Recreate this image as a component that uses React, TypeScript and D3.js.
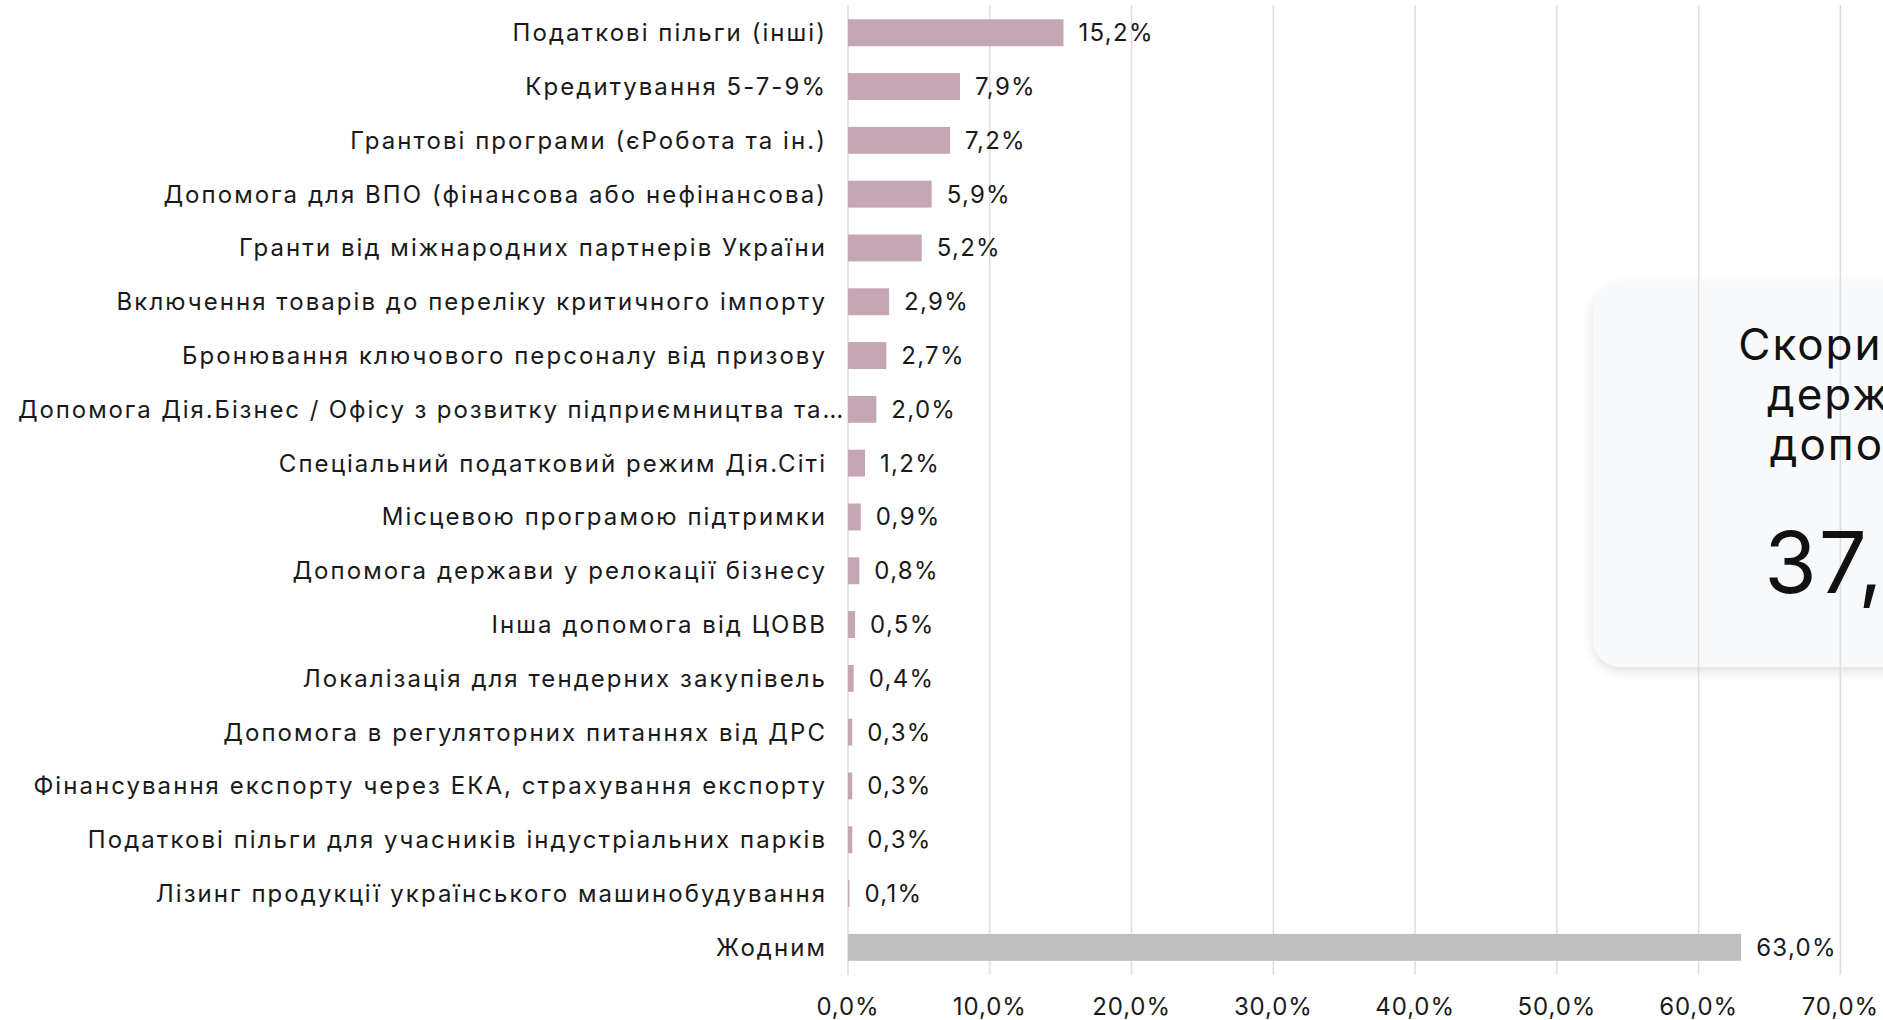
import React from "react";
import * as d3 from "d3";

const categories = [
  "Податкові пільги (інші)",
  "Кредитування 5-7-9%",
  "Грантові програми (єРобота та ін.)",
  "Допомога для ВПО (фінансова або нефінансова)",
  "Гранти від міжнародних партнерів України",
  "Включення товарів до переліку критичного імпорту",
  "Бронювання ключового персоналу від призову",
  "Допомога Дія.Бізнес / Офісу з розвитку підприємництва та…",
  "Спеціальний податковий режим Дія.Сіті",
  "Місцевою програмою підтримки",
  "Допомога держави у релокації бізнесу",
  "Інша допомога від ЦОВВ",
  "Локалізація для тендерних закупівель",
  "Допомога в регуляторних питаннях від ДРС",
  "Фінансування експорту через ЕКА, страхування експорту",
  "Податкові пільги для учасників індустріальних парків",
  "Лізинг продукції українського машинобудування",
  "Жодним",
];
const values = [15.2, 7.9, 7.2, 5.9, 5.2, 2.9, 2.7, 2.0, 1.2, 0.9, 0.8, 0.5, 0.4, 0.3, 0.3, 0.3, 0.1, 63.0];
const xTicks = [0, 10, 20, 30, 40, 50, 60, 70];
const calloutLines = ["Скористалися", "державною", "допомогою"];
const calloutValue = 37.0;

const W = 1883;
const H = 1020;
const FONT = "Inter, 'Noto Sans', sans-serif";
const fmt = (v: number) => v.toFixed(1).replace(".", ",") + "%";

export default function App() {
  React.useEffect(() => {
    document.body.style.margin = "0";
    document.body.style.overflow = "hidden";
  }, []);

  const x = d3.scaleLinear().domain([0, 70]).range([848, 1840.4]);
  const y = d3
    .scaleBand<string>()
    .domain(categories)
    .range([5.85, 974.25])
    .paddingInner(0.5)
    .paddingOuter(0.25);

  const labelX = 827;

  return (
    <svg width={W} height={H} style={{ display: "block", fontFamily: FONT }}>
      <defs>
        <filter id="shadow" x="-20%" y="-20%" width="140%" height="140%">
          <feDropShadow dx="0" dy="4" stdDeviation="6" floodColor="#000" floodOpacity="0.12" />
        </filter>
      </defs>
      <rect width={W} height={H} fill="#fff" />

      {/* callout box behind grid */}
      <rect x={1593} y={283} width={600} height={384} rx={28} fill="#f8f9fb" filter="url(#shadow)" />

      {/* grid */}
      {xTicks.map((t) => (
        <line key={t} x1={x(t)} x2={x(t)} y1={5} y2={975} stroke="#dedede" strokeWidth={1.5} />
      ))}

      {/* bars */}
      {categories.map((c, i) => (
        <rect
          key={c}
          x={x(0)}
          y={y(c)}
          width={x(values[i]) - x(0)}
          height={y.bandwidth()}
          fill={c === "Жодним" ? "#bfbfbf" : "#c5a6b5"}
        />
      ))}

      {/* category labels */}
      {categories.map((c) => {
        const long = c.endsWith("…");
        return (
          <text
            key={c}
            x={long ? 18 : labelX}
            y={(y(c) ?? 0) + y.bandwidth() / 2}
            dy="0.35em"
            textAnchor={long ? "start" : "end"}
            fontSize={24}
            letterSpacing={long ? 1.9 : 2.05}
            fill="#1a1a1a"
          >
            {c}
          </text>
        );
      })}

      {/* value labels */}
      {categories.map((c, i) => (
        <text
          key={c}
          x={x(values[i]) + 15}
          y={(y(c) ?? 0) + y.bandwidth() / 2}
          dy="0.35em"
          fontSize={24}
          letterSpacing={1.3}
          fill="#1a1a1a"
        >
          {fmt(values[i])}
        </text>
      ))}

      {/* x axis labels */}
      {xTicks.map((t) => (
        <text key={t} x={x(t)} y={1015} textAnchor="middle" fontSize={24} letterSpacing={0.9} fill="#1a1a1a">
          {fmt(t)}
        </text>
      ))}

      {/* callout text */}
      {calloutLines.map((l, i) => (
        <text key={l} x={1903} y={360 + i * 50} textAnchor="middle" fontSize={44} letterSpacing={2} fill="#111">
          {l}
        </text>
      ))}
      <text x={1894} y={593} textAnchor="middle" fontSize={85} letterSpacing={2} fill="#111">
        {fmt(calloutValue)}
      </text>
    </svg>
  );
}
